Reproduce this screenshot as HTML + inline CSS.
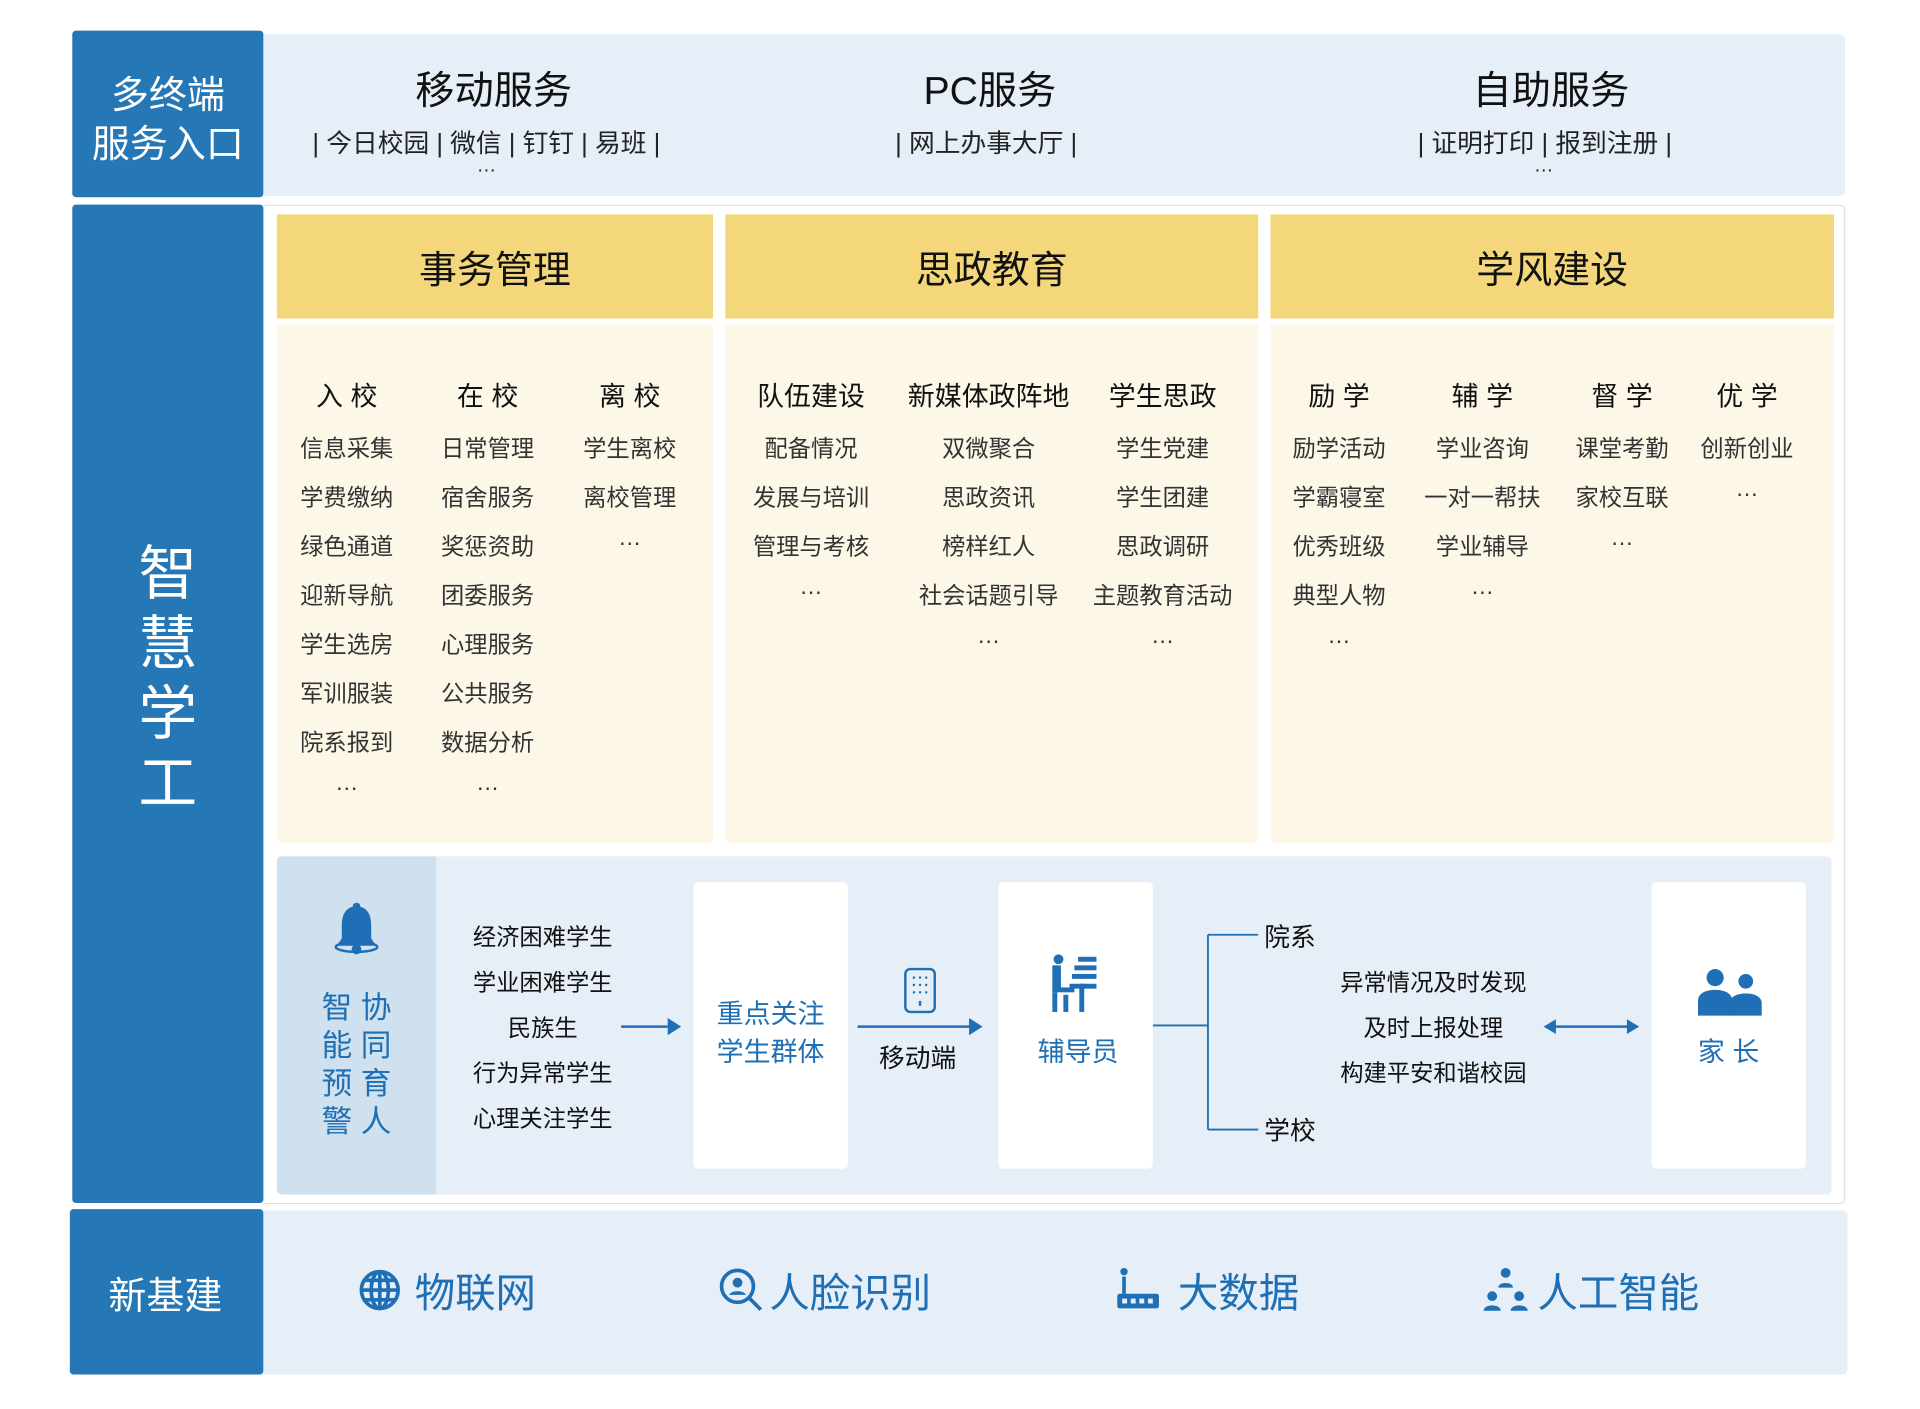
<!DOCTYPE html>
<html><head><meta charset="utf-8"><style>
html,body{margin:0;padding:0;background:#fff;width:1920px;height:1409px;overflow:hidden}
#s{position:absolute;left:0;top:0;width:1560px;height:1145px;transform:scale(1.2251);transform-origin:0 0;font-family:"Liberation Sans","Noto Sans CJK SC",sans-serif;color:#222}
.a{position:absolute}
.c{position:absolute;transform:translate(-50%,-50%);white-space:nowrap;text-align:center}
.blue{background:#2577b5}
.lb{background:#e6eef7}
.yh{background:#f4d77a;font-size:31px;display:flex;align-items:center;justify-content:center;color:#111}
.cr{background:#fdf7e8}
.h{font-size:22px;color:#111}
.i{font-size:19px;color:#333}
.bt{color:#1e6fb5}
.wb{background:#fff;border-radius:4px}
</style></head><body><div id="s">
<div class="a blue" style="left:59px;top:25px;width:156px;height:136px;border-radius:3px"></div>
<div class="c" style="left:137px;top:98px;color:#fff;font-size:31px;line-height:40px">多终端<br>服务入口</div>
<div class="a lb" style="left:215px;top:28px;width:1291px;height:132px;border-radius:0 4px 4px 0"></div>
<div class="c" style="left:403px;top:72px;font-size:32px;color:#111">移动服务</div>
<div class="c" style="left:397px;top:116px;font-size:21px">| 今日校园 | 微信 | 钉钉 | 易班 |</div>
<div class="c" style="left:397px;top:136px;font-size:16px">…</div>
<div class="c" style="left:808px;top:72px;font-size:32px;color:#111">PC服务</div>
<div class="c" style="left:805px;top:116px;font-size:21px">| 网上办事大厅 |</div>
<div class="c" style="left:1266px;top:72px;font-size:32px;color:#111">自助服务</div>
<div class="c" style="left:1261px;top:116px;font-size:21px">| 证明打印 | 报到注册 |</div>
<div class="c" style="left:1260px;top:136px;font-size:16px">…</div>
<div class="a blue" style="left:59px;top:167px;width:156px;height:815px;border-radius:3px"></div>
<div class="c" style="left:137px;top:555px;color:#fff;font-size:48px;line-height:57px">智<br>慧<br>学<br>工</div>
<div class="a" style="left:215px;top:167px;width:1290px;height:814px;border:1px solid #e0e0e0;border-left:none;border-radius:0 4px 4px 0"></div>
<div class="a yh" style="left:226px;top:175px;width:356px;height:85px">事务管理</div>
<div class="a yh" style="left:592px;top:175px;width:435px;height:85px">思政教育</div>
<div class="a yh" style="left:1037px;top:175px;width:460px;height:85px">学风建设</div>
<div class="a cr" style="left:226px;top:265px;width:356px;height:423px;border-radius:0 0 4px 4px"></div>
<div class="a cr" style="left:592px;top:265px;width:435px;height:423px;border-radius:0 0 4px 4px"></div>
<div class="a cr" style="left:1037px;top:265px;width:460px;height:423px;border-radius:0 0 4px 4px"></div>
<div id="lists"></div>
<div class="a lb" style="left:226px;top:699px;width:1269px;height:276px;border-radius:4px"></div>
<div class="a" style="left:226px;top:699px;width:130px;height:276px;background:#cfe0ee;border-radius:4px 0 0 4px"></div>
<svg class="a" style="left:270px;top:735px" width="42" height="46" viewBox="0 0 42 46"><path d="M21 2c2 0 3 1 3 3 7 2 9 8 9 16v10l4 6H5l4-6V21c0-8 2-14 9-16 0-2 1-3 3-3z" fill="#1e6fb5"/><circle cx="21" cy="40" r="4" fill="#1e6fb5"/><ellipse cx="21" cy="38" rx="17" ry="4" fill="none" stroke="#1e6fb5" stroke-width="2"/></svg>
<div class="c bt" style="left:291px;top:870px;font-size:25px;line-height:31px;letter-spacing:0">智&nbsp;协<br>能&nbsp;同<br>预&nbsp;育<br>警&nbsp;人</div>
<div class="c" style="left:443px;top:840px;font-size:19px;line-height:37px;color:#111">经济困难学生<br>学业困难学生<br>民族生<br>行为异常学生<br>心理关注学生</div>
<svg class="a" style="left:505px;top:828px" width="52" height="20"><line x1="2" y1="10" x2="40" y2="10" stroke="#1e6fb5" stroke-width="2"/><path d="M40 3l11 7-11 7z" fill="#1e6fb5"/></svg>
<div class="a wb" style="left:566px;top:720px;width:126px;height:234px"></div>
<div class="c bt" style="left:629px;top:843px;font-size:22px;line-height:31px">重点关注<br>学生群体</div>
<svg class="a" style="left:737px;top:789px" width="28" height="40"><rect x="2" y="2" width="24" height="35" rx="4" fill="none" stroke="#1e6fb5" stroke-width="2"/><g fill="#1e6fb5"><circle cx="9" cy="9" r="1"/><circle cx="14" cy="9" r="1"/><circle cx="19" cy="9" r="1"/><circle cx="9" cy="15" r="1"/><circle cx="14" cy="15" r="1"/><circle cx="19" cy="15" r="1"/><circle cx="9" cy="21" r="1"/><circle cx="14" cy="21" r="1"/><circle cx="19" cy="21" r="1"/><rect x="13" y="28" width="2" height="4"/></g></svg>
<svg class="a" style="left:698px;top:828px" width="108" height="20"><line x1="2" y1="10" x2="94" y2="10" stroke="#1e6fb5" stroke-width="2"/><path d="M93 3l11 7-11 7z" fill="#1e6fb5"/></svg>
<div class="c" style="left:749px;top:863px;font-size:21px;color:#111">移动端</div>
<div class="a wb" style="left:815px;top:720px;width:126px;height:234px"></div>
<svg class="a" style="left:855px;top:779px" width="44" height="48"><g fill="#1e6fb5"><circle cx="9" cy="4" r="4"/><rect x="4" y="9" width="7" height="20"/><rect x="4" y="27" width="18" height="4"/><rect x="4" y="31" width="4" height="16"/><rect x="13" y="33" width="4" height="14"/><rect x="26" y="24" width="4" height="23"/><rect x="18" y="24" width="22" height="4"/><rect x="25" y="2" width="15" height="4"/><rect x="22" y="9" width="18" height="4"/><rect x="20" y="16" width="20" height="4"/></g></svg>
<div class="c bt" style="left:880px;top:857px;font-size:22px">辅导员</div>
<svg class="a" style="left:941px;top:755px" width="100" height="170"><path d="M0 82H45M45 8V167M45 8H86M45 167H86" fill="none" stroke="#1e6fb5" stroke-width="1.5"/></svg>
<div class="c" style="left:1053px;top:764px;font-size:21px;color:#111">院系</div>
<div class="c" style="left:1053px;top:922px;font-size:21px;color:#111">学校</div>
<div class="c" style="left:1170px;top:840px;font-size:19px;line-height:37px;color:#111">异常情况及时发现<br>及时上报处理<br>构建平安和谐校园</div>
<svg class="a" style="left:1258px;top:828px" width="82" height="20"><line x1="10" y1="10" x2="72" y2="10" stroke="#1e6fb5" stroke-width="2"/><path d="M2 10l10-6v12zM80 10l-10-6v12z" fill="#1e6fb5"/></svg>
<div class="a wb" style="left:1348px;top:720px;width:126px;height:234px"></div>
<svg class="a" style="left:1385px;top:788px" width="54" height="42"><g fill="#1e6fb5"><circle cx="15" cy="10" r="7"/><path d="M1 41v-12c0-6 6-9 14-9s14 3 14 9v12z"/><circle cx="40" cy="13" r="6"/><path d="M27 41v-10c0-5 5-8 13-8s13 3 13 8v10z"/></g></svg>
<div class="c bt" style="left:1411px;top:857px;font-size:22px">家&nbsp;长</div>
<div class="a blue" style="left:57px;top:987px;width:158px;height:135px;border-radius:3px"></div>
<div class="c" style="left:135px;top:1055px;color:#fff;font-size:31px">新基建</div>
<div class="a lb" style="left:215px;top:988px;width:1293px;height:134px;border-radius:0 4px 4px 0"></div>
<svg class="a" style="left:292px;top:1035px" width="36" height="36"><g fill="none" stroke="#1e6fb5" stroke-width="3"><circle cx="18" cy="18" r="15"/><ellipse cx="18" cy="18" rx="7" ry="15"/><line x1="3" y1="18" x2="33" y2="18"/><line x1="18" y1="3" x2="18" y2="33"/><line x1="6" y1="10" x2="30" y2="10"/><line x1="6" y1="26" x2="30" y2="26"/></g></svg>
<div class="c bt" style="left:388px;top:1053px;font-size:33px">物联网</div>
<svg class="a" style="left:586px;top:1034px" width="38" height="38"><g fill="none" stroke="#1e6fb5" stroke-width="3"><circle cx="16" cy="16" r="13"/><line x1="26" y1="26" x2="35" y2="35"/></g><circle cx="16" cy="13" r="4" fill="#1e6fb5"/><path d="M9 23c2-4 12-4 14 0" fill="#1e6fb5"/></svg>
<div class="c bt" style="left:694px;top:1053px;font-size:33px">人脸识别</div>
<svg class="a" style="left:910px;top:1034px" width="38" height="36"><g fill="#1e6fb5"><rect x="2" y="22" width="34" height="12" rx="2"/><rect x="6" y="8" width="3" height="14"/><circle cx="7.5" cy="4" r="3"/></g><g fill="#e6eef7"><rect x="6" y="26" width="4" height="4"/><rect x="13" y="26" width="4" height="4"/><rect x="20" y="26" width="4" height="4"/><rect x="27" y="26" width="4" height="4"/></g></svg>
<div class="c bt" style="left:1011px;top:1053px;font-size:33px">大数据</div>
<svg class="a" style="left:1210px;top:1034px" width="38" height="36"><g fill="#1e6fb5"><circle cx="19" cy="5" r="4"/><path d="M13 17c0-5 12-5 12 0z"/><circle cx="8" cy="24" r="4"/><path d="M1 36c0-6 14-6 14 0z"/><circle cx="30" cy="24" r="4"/><path d="M23 36c0-6 14-6 14 0z"/></g></svg>
<div class="c bt" style="left:1321px;top:1053px;font-size:33px">人工智能</div>
</div>
<script>
var cols=[
[283,["入 校","信息采集","学费缴纳","绿色通道","迎新导航","学生选房","军训服装","院系报到","…"]],
[398,["在 校","日常管理","宿舍服务","奖惩资助","团委服务","心理服务","公共服务","数据分析","…"]],
[514,["离 校","学生离校","离校管理","…"]],
[662,["队伍建设","配备情况","发展与培训","管理与考核","…"]],
[807,["新媒体政阵地","双微聚合","思政资讯","榜样红人","社会话题引导","…"]],
[949,["学生思政","学生党建","学生团建","思政调研","主题教育活动","…"]],
[1093,["励 学","励学活动","学霸寝室","优秀班级","典型人物","…"]],
[1210,["辅 学","学业咨询","一对一帮扶","学业辅导","…"]],
[1324,["督 学","课堂考勤","家校互联","…"]],
[1426,["优 学","创新创业","…"]]];
var h="";cols.forEach(function(c){c[1].forEach(function(t,i){var y=i==0?322:325+i*40;if(t=="…")y-=5;h+='<div class="c '+(i==0?'h':'i')+'" style="left:'+c[0]+'px;top:'+y+'px">'+t+'</div>';});});
document.getElementById("lists").outerHTML=h;
</script>
</body></html>
